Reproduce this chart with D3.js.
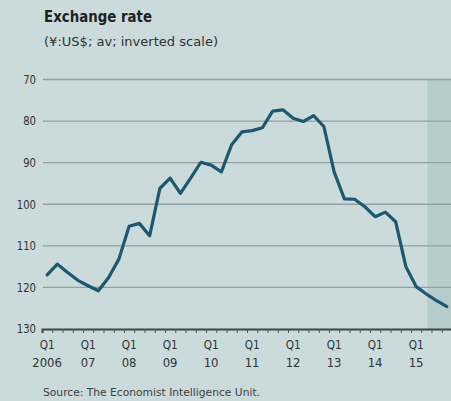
<!DOCTYPE html>
<html>
<head>
<meta charset="utf-8">
<script src="https://cdn.jsdelivr.net/npm/d3@7"></script>
<style>
  html, body { margin: 0; padding: 0; background: #cbdada; }
  svg { display: block; }
  text { font-family: "Liberation Sans Narrow", "DejaVu Sans Condensed", "DejaVu Sans", sans-serif; font-stretch: condensed; }
</style>
</head>
<body>
<svg id="chart" width="451" height="401"></svg>
<script>
// Yen per US dollar, quarterly averages, Q1 2006 to Q4 2015
const years = [2006, 2007, 2008, 2009, 2010, 2011, 2012, 2013, 2014, 2015];
const quarters = [1, 2, 3, 4];
const yenPerDollar = [
  117.0, 114.4, 116.4, 118.3,   // 2006
  119.6, 120.8, 117.6, 113.2,   // 2007
  105.3, 104.6, 107.6,  96.2,   // 2008
   93.7,  97.4,  93.7,  89.9,   // 2009
   90.6,  92.2,  85.7,  82.6,   // 2010
   82.3,  81.6,  77.6,  77.3,   // 2011
   79.3,  80.1,  78.7,  81.3,   // 2012
   92.2,  98.7,  98.8, 100.6,   // 2013
  103.0, 101.9, 104.2, 115.0,   // 2014
  119.8, 121.6, 123.2, 124.6    // 2015
];
const yTicks = [70, 80, 90, 100, 110, 120, 130];
const xTickLabels = ["2006", "07", "08", "09", "10", "11", "12", "13", "14", "15"];
const forecastFrom = 2015.4;   // start of the forecast period (decimal year)

const svg = d3.select("#chart");

// Decimal-year position of each quarter's midpoint
const points = yenPerDollar.map((v, i) => ({
  t: years[Math.floor(i / 4)] + (quarters[i % 4] - 0.5) / 4,
  v
}));

const x = d3.scaleLinear().domain([2006, 2016]).range([42, 452]);
// Inverted scale: a stronger yen sits higher
const y = d3.scaleLinear().domain([70, 130]).range([79.5, 329]);

// Forecast shading
svg.append("rect")
  .attr("x", x(forecastFrom))
  .attr("y", y(70))
  .attr("width", x(2016) - x(forecastFrom))
  .attr("height", y(130) - y(70))
  .attr("fill", "#b5cccb");

// Horizontal gridlines and left labels
svg.append("g").selectAll("line")
  .data(yTicks.slice(0, -1))
  .join("line")
  .attr("x1", 43).attr("x2", 451)
  .attr("y1", d => y(d)).attr("y2", d => y(d))
  .attr("stroke", "#939fa0")
  .attr("stroke-width", 1.3);

svg.append("g").selectAll("text")
  .data(yTicks)
  .join("text")
  .attr("x", 36)
  .attr("y", d => y(d))
  .attr("dy", "0.36em")
  .attr("text-anchor", "end")
  .attr("font-size", 12)
  .attr("fill", "#2f3435")
  .attr("textLength", d => String(d).length * 6.4)
  .attr("lengthAdjust", "spacingAndGlyphs")
  .text(d => d);

// Bottom axis: quarter ticks on the baseline
const tickYears = d3.range(2006, 2016.01, 0.25);
const xAxis = d3.axisBottom(x)
  .tickValues(tickYears)
  .tickSize(4)
  .tickFormat("");
const axisG = svg.append("g")
  .attr("transform", `translate(0,${y(130)})`)
  .call(xAxis);
axisG.select(".domain").attr("stroke", "#3a4446").attr("stroke-width", 2.2);
axisG.selectAll(".tick line").attr("stroke", "#4a5456").attr("stroke-width", 1);

// Q1 labels centred on each year's first quarter
const labelG = svg.append("g");
labelG.selectAll("text.q")
  .data(years)
  .join("text")
  .attr("class", "q")
  .attr("x", d => x(d + 0.125))
  .attr("y", 349)
  .attr("text-anchor", "middle")
  .attr("font-size", 12.5)
  .attr("fill", "#2f3435")
  .attr("textLength", 15)
  .attr("lengthAdjust", "spacingAndGlyphs")
  .text("Q1");
labelG.selectAll("text.yr")
  .data(years)
  .join("text")
  .attr("class", "yr")
  .attr("x", d => x(d + 0.125))
  .attr("y", 367)
  .attr("text-anchor", "middle")
  .attr("font-size", 12.5)
  .attr("fill", "#2f3435")
  .attr("textLength", (d, i) => xTickLabels[i].length * 7.4)
  .attr("lengthAdjust", "spacingAndGlyphs")
  .text((d, i) => xTickLabels[i]);

// The exchange-rate line
const line = d3.line()
  .x(d => x(d.t))
  .y(d => y(d.v));
svg.append("path")
  .datum(points)
  .attr("d", line)
  .attr("fill", "none")
  .attr("stroke", "#1d5870")
  .attr("stroke-width", 3.2)
  .attr("stroke-linejoin", "round")
  .attr("stroke-linecap", "round");

// Title, subtitle and source
svg.append("text")
  .attr("x", 44).attr("y", 22)
  .attr("font-size", 15)
  .attr("font-weight", "bold")
  .attr("fill", "#1e2223")
  .attr("textLength", 108)
  .attr("lengthAdjust", "spacingAndGlyphs")
  .text("Exchange rate");
svg.append("text")
  .attr("x", 44).attr("y", 46)
  .attr("font-size", 12.5)
  .attr("fill", "#2f3435")
  .attr("textLength", 174)
  .attr("lengthAdjust", "spacingAndGlyphs")
  .text("(¥:US$; av; inverted scale)");
svg.append("text")
  .attr("x", 43).attr("y", 396)
  .attr("font-size", 10.5)
  .attr("fill", "#3b3f40")
  .attr("textLength", 217)
  .attr("lengthAdjust", "spacingAndGlyphs")
  .text("Source: The Economist Intelligence Unit.");
</script>
</body>
</html>
